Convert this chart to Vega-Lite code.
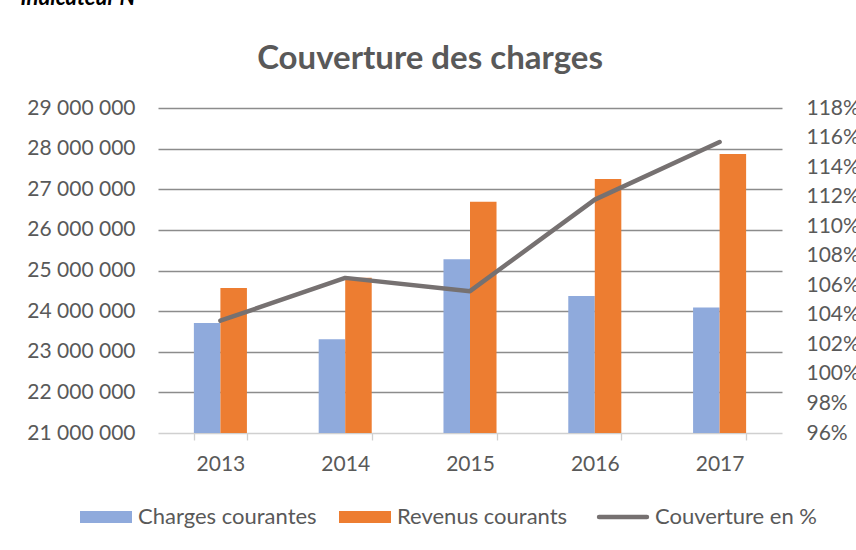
{
  "$schema": "https://vega.github.io/schema/vega-lite/v6.json",
  "width": 624,
  "height": 325,
  "autosize": {"type": "none"},
  "padding": {"left": 158, "top": 108, "right": 74, "bottom": 117},
  "background": "white",
  "config": {"view": {"stroke": null}, "font": "Lato"},
  "title": {
    "text": "Couverture des charges",
    "font": "Lato",
    "fontSize": 33,
    "fontWeight": "bold",
    "color": "#595959",
    "anchor": "middle",
    "frame": "group",
    "dx": -40,
    "offset": -116,
    "baseline": "alphabetic"
  },
  "datasets": {
    "barres": [
      {"annee": "2013", "serie": "Charges courantes", "valeur": 23710000},
      {"annee": "2013", "serie": "Revenus courants", "valeur": 24570000},
      {"annee": "2014", "serie": "Charges courantes", "valeur": 23310000},
      {"annee": "2014", "serie": "Revenus courants", "valeur": 24820000},
      {"annee": "2015", "serie": "Charges courantes", "valeur": 25280000},
      {"annee": "2015", "serie": "Revenus courants", "valeur": 26690000},
      {"annee": "2016", "serie": "Charges courantes", "valeur": 24370000},
      {"annee": "2016", "serie": "Revenus courants", "valeur": 27250000},
      {"annee": "2017", "serie": "Charges courantes", "valeur": 24090000},
      {"annee": "2017", "serie": "Revenus courants", "valeur": 27870000}
    ],
    "couv": [
      {"annee": "2013", "couverture": 1.036},
      {"annee": "2014", "couverture": 1.065},
      {"annee": "2015", "couverture": 1.056},
      {"annee": "2016", "couverture": 1.118},
      {"annee": "2017", "couverture": 1.157}
    ]
  },
  "layer": [
    {
      "data": {"name": "barres"},
      "mark": {"type": "bar", "clip": true},
      "encoding": {
        "x": {
          "field": "annee",
          "type": "nominal",
          "scale": {"paddingInner": 0.575, "paddingOuter": 0.2875},
          "axis": {
            "title": null,
            "labelAngle": 0,
            "labelFont": "Lato",
            "labelFontSize": 21,
            "labelColor": "#595959",
            "domainColor": "#d0d0d0",
            "domainWidth": 1.3,
            "tickColor": "#d0d0d0",
            "tickWidth": 1.3,
            "tickSize": 7,
            "tickBand": "extent",
            "labelPadding": 13,
            "grid": false
          }
        },
        "xOffset": {"field": "serie", "sort": ["Charges courantes", "Revenus courants"], "scale": {"paddingInner": 0, "paddingOuter": 0}},
        "y": {
          "field": "valeur",
          "type": "quantitative",
          "scale": {"domain": [21000000, 29000000], "zero": false, "nice": false},
          "axis": {
            "values": [21000000, 22000000, 23000000, 24000000, 25000000, 26000000, 27000000, 28000000, 29000000],
            "labelExpr": "replace(replace(format(datum.value, ','), ',', ' '), ',', ' ')",
            "grid": true,
            "gridColor": "#8c8c8c",
            "gridWidth": 1.3,
            "gridOpacity": {"condition": {"test": "datum.value === 21000000", "value": 0}, "value": 1},
            "domain": false,
            "ticks": false,
            "labelPadding": 23,
            "labelFont": "Lato",
            "labelFontSize": 21,
            "labelColor": "#595959",
            "title": "Indicateur N",
            "titleAngle": 0,
            "titleX": -138,
            "titleY": -104,
            "titleAlign": "left",
            "titleBaseline": "alphabetic",
            "titleFont": "Lato",
            "titleFontSize": 22,
            "titleFontStyle": "italic",
            "titleFontWeight": "bold",
            "titleColor": "#000000"
          }
        },
        "color": {
          "field": "serie",
          "type": "nominal",
          "scale": {
            "domain": ["Charges courantes", "Revenus courants", "Couverture en %"],
            "range": ["#8faadc", "#ed7d31", "#767171"]
          },
          "legend": {
            "orient": "none",
            "legendX": -63,
            "legendY": 398,
            "direction": "horizontal",
            "title": null,
            "labelFont": "Lato",
            "labelFontSize": 22,
            "labelColor": "#595959",
            "labelLimit": 400,
            "symbolSize": 2704,
            "symbolType": "M-1,-0.23H1V0.23H-1Z",
            "columnPadding": 22,
            "labelOffset": 21,
            "encode": {
              "symbols": {
                "update": {
                  "shape": {"signal": "datum.value === 'Couverture en %' ? 'M-0.92,0H0.92' : 'M-1,-0.23H1V0.23H-1Z'"},
                  "fill": {"signal": "datum.value === 'Couverture en %' ? 'transparent' : scale('color', datum.value)"},
                  "stroke": {"signal": "scale('color', datum.value)"},
                  "strokeWidth": {"signal": "datum.value === 'Couverture en %' ? 4.5 : 0"},
                  "strokeCap": {"value": "round"},
                  "opacity": {"value": 1}
                }
              }
            }
          }
        }
      }
    },
    {
      "data": {"name": "couv"},
      "mark": {"type": "line", "strokeWidth": 4.5, "strokeCap": "round", "strokeJoin": "round"},
      "encoding": {
        "x": {"field": "annee", "type": "nominal"},
        "y": {
          "field": "couverture",
          "type": "quantitative",
          "scale": {"domain": [0.96, 1.18], "zero": false, "nice": false},
          "axis": {
            "orient": "right",
            "values": [0.96, 0.98, 1.0, 1.02, 1.04, 1.06, 1.08, 1.1, 1.12, 1.14, 1.16, 1.18],
            "format": ".0%",
            "domain": false,
            "ticks": false,
            "grid": false,
            "labelPadding": 24,
            "labelFont": "Lato",
            "labelFontSize": 21,
            "labelColor": "#595959",
            "title": null
          }
        },
        "color": {"datum": "Couverture en %"}
      }
    }
  ],
  "resolve": {"scale": {"y": "independent"}}
}
